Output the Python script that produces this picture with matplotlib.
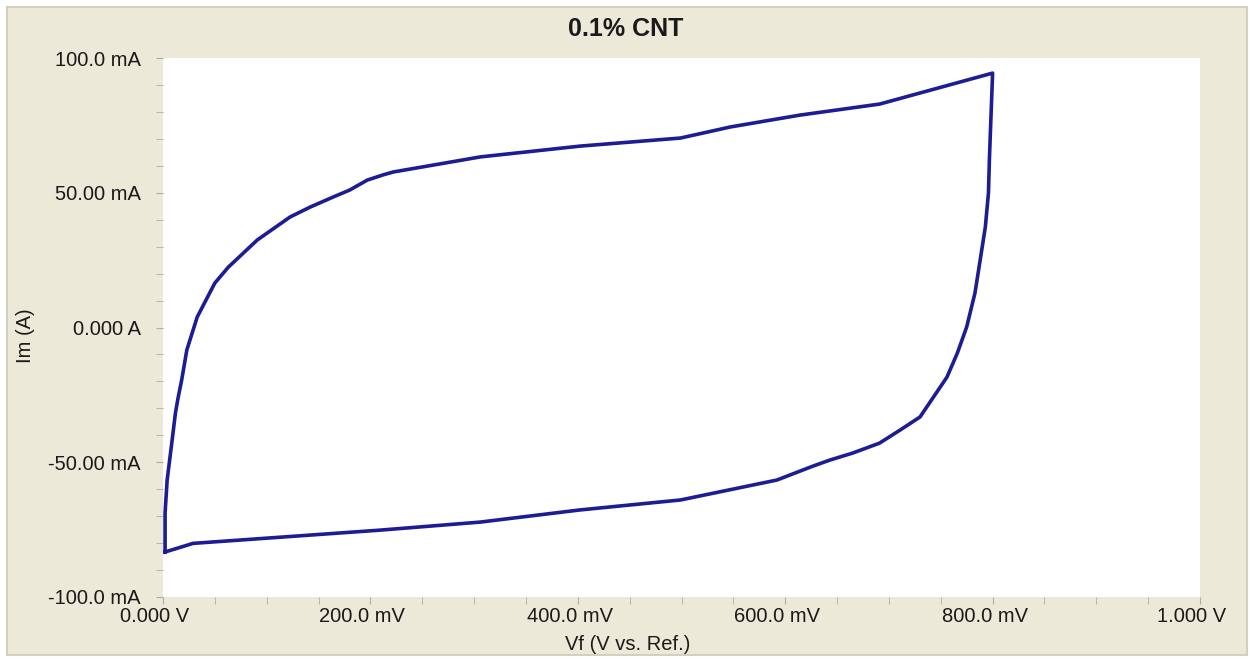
import numpy as np
import matplotlib
matplotlib.use('Agg')
import matplotlib.pyplot as plt
import matplotlib.transforms as mtrans
from matplotlib.patches import Rectangle

# cyclic voltammogram (V, mA)
volts = [0.002, 0.002, 0.004, 0.008, 0.012, 0.0145, 0.018, 0.023, 0.033,
         0.050, 0.063, 0.091, 0.1225, 0.142, 0.164, 0.180, 0.197, 0.212,
         0.222, 0.306, 0.402, 0.499, 0.547, 0.614, 0.691, 0.800,
         0.797, 0.796, 0.793, 0.788, 0.783, 0.775, 0.766, 0.756, 0.743,
         0.730, 0.711, 0.691, 0.665, 0.643, 0.627, 0.592, 0.499, 0.402,
         0.306, 0.209, 0.029, 0.002]
amps = [-83.3, -68.8, -56.6, -44.3, -31.7, -26.2, -19.5, -8.3, 3.9,
        16.5, 22.4, 32.5, 41.0, 44.7, 48.4, 51.0, 54.7, 56.6,
        57.7, 63.3, 67.3, 70.3, 74.4, 78.8, 82.9, 94.4,
        63.3, 49.9, 37.3, 25.0, 12.8, 0.2, -9.5, -18.4, -25.8,
        -33.2, -38.0, -42.9, -46.6, -49.2, -51.4, -56.6, -64.0, -67.7,
        -72.2, -75.2, -80.1, -83.3]

xticks = [0.0, 0.2, 0.4, 0.6, 0.8, 1.0]
xlabels = ['0.000 V', '200.0 mV', '400.0 mV', '600.0 mV', '800.0 mV', '1.000 V']
yticks = [-100, -50, 0, 50, 100]
ylabels = ['-100.0 mA', '-50.00 mA', '0.000 A', '50.00 mA', '100.0 mA']

plt.rcParams['font.family'] = ['Liberation Sans', 'DejaVu Sans']
txt = '#1a1a1a'

fig = plt.figure(figsize=(12.52, 6.61), dpi=100, facecolor='white')
# grey windows-style panel behind the plot
fig.patches.append(Rectangle((7 / 1252, 6 / 661), 1240 / 1252, 648 / 661,
                             transform=fig.transFigure, facecolor='#ECE9D8',
                             edgecolor='#d4d0c0', lw=1.5, zorder=-10))

ax = fig.add_axes([163 / 1252, 64 / 661, 1037 / 1252, 539 / 661])
ax.set_facecolor('white')
ax.plot(volts, amps, color='#1c1c94', lw=2.6, solid_joinstyle='round')

ax.set_xlim(0, 1.0)
ax.set_ylim(-100, 100)
ax.set_xticks(xticks)
ax.set_xticklabels(xlabels)
ax.set_yticks(yticks)
ax.set_yticklabels(ylabels)
ax.set_xticks(np.arange(0, 1.001, 0.05), minor=True)
ax.set_yticks(np.arange(-100, 101, 10), minor=True)
ax.tick_params(which='both', direction='out', length=5, color='#b0ad9e',
               labelsize=14.5, labelcolor=txt)
ax.tick_params(axis='y', pad=11)
ax.tick_params(axis='x', pad=2)
# x labels sit a little left of their ticks in the original
shift = mtrans.ScaledTranslation(-8 / 100, 0, fig.dpi_scale_trans)
for lab in ax.get_xticklabels():
    lab.set_transform(lab.get_transform() + shift)
for s in ax.spines.values():
    s.set_visible(False)

fig.text(0.5, 1 - 29 / 661, '0.1% CNT', fontsize=18, fontweight='bold',
         color=txt, ha='center', va='center')
fig.text(628 / 1252, 1 - 645 / 661, 'Vf (V vs. Ref.)', fontsize=14.5,
         color=txt, ha='center', va='center')
ax.set_ylabel('Im (A)', fontsize=14.5, color=txt)
ax.yaxis.set_label_coords(-0.123, 0.484)

fig.savefig('out.png', dpi=100, facecolor=fig.get_facecolor())
